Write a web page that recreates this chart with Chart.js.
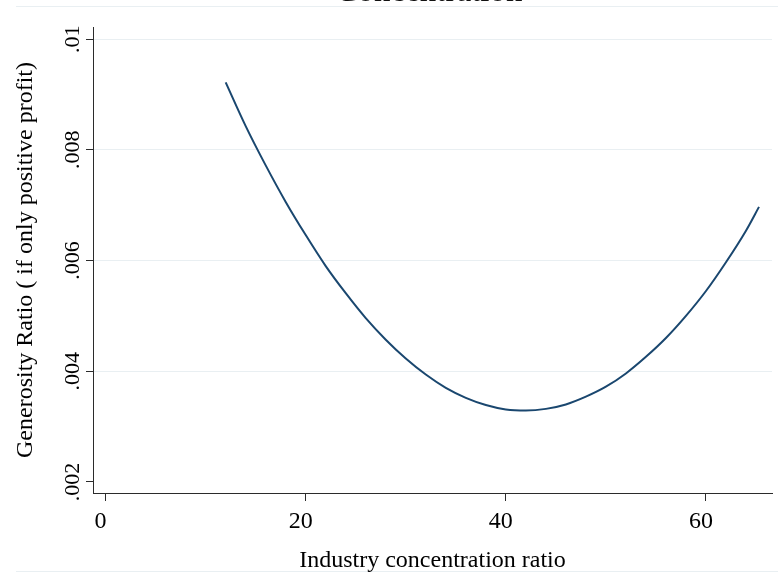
<!DOCTYPE html>
<html>
<head>
<meta charset="utf-8">
<title>Generosity Ratio by Concentration</title>
<script src="https://cdn.jsdelivr.net/npm/chart.js@4/dist/chart.umd.min.js"></script>
<style>
  html, body { margin: 0; padding: 0; background: #fff; overflow: hidden; }
  #wrap { position: relative; width: 778px; height: 574px; }
  #frame {
    position: absolute; left: 16px; top: 6px; width: 762px; height: 566px;
    border-top: 1px solid #e9eff2; border-bottom: 1px solid #e9eff2;
    box-sizing: border-box; pointer-events: none;
  }
  canvas { position: absolute; left: 0; top: 0; }
</style>
</head>
<body>
<div id="wrap">
  <div id="frame"></div>
  <canvas id="chart" width="778" height="574"></canvas>
</div>
<script>
/* ── Data ────────────────────────────────────────────────── */

const concentration = [
  12, 14, 16, 18, 20, 22, 24, 26, 28, 30, 32, 34, 36, 38,
  40, 42, 44, 46, 48, 50, 52, 54, 56, 58, 60, 62, 64, 65.3,
];
const generosity = [
  0.00922, 0.00843, 0.00772, 0.00706, 0.00646, 0.00590, 0.00541,
  0.00496, 0.00457, 0.00423, 0.00394, 0.00370, 0.00352, 0.00339,
  0.00331, 0.00329, 0.00332, 0.00340, 0.00354, 0.00372, 0.00396,
  0.00426, 0.00460, 0.00500, 0.00545, 0.00597, 0.00654, 0.00697,
];
const xTicks = [0, 20, 40, 60];
const yTicks = [0.002, 0.004, 0.006, 0.008, 0.01];
const yTickLabels = ['.002', '.004', '.006', '.008', '.01'];

/* ── Styles ──────────────────────────────────────────────── */

const SERIF = '"Liberation Serif", "Times New Roman", serif';
const LINE_COLOR = '#1a476f';
const AXIS_COLOR = '#2b2b2b';
const GRID_COLOR = '#e9eff2';

// title is cropped at the top of the reference; only its bottom edge shows
const cutTitle = {
  id: 'cutTitle',
  afterDraw(chart) {
    const ctx = chart.ctx;
    ctx.save();
    ctx.font = '33px ' + SERIF;
    ctx.fillStyle = '#111';
    ctx.textAlign = 'center';
    ctx.textBaseline = 'alphabetic';
    ctx.fillText('Concentration', 429, 1);
    ctx.restore();
  },
};

const points = concentration.map((x, i) => ({ x, y: generosity[i] }));

new Chart(document.getElementById('chart'), {
  type: 'line',
  data: {
    datasets: [
      {
        data: points,
        borderColor: LINE_COLOR,
        borderWidth: 2,
        pointRadius: 0,
        fill: false,
        cubicInterpolationMode: 'monotone',
      },
    ],
  },
  options: {
    responsive: false,
    animation: false,
    layout: { padding: { top: 27, right: 6, bottom: 0, left: 0 } },
    plugins: {
      legend: { display: false },
      tooltip: { enabled: false },
    },
    scales: {
      x: {
        type: 'linear',
        min: -1.26,
        max: 66.6,
        afterFit: (scale) => { scale.height = 81; },
        afterBuildTicks: (scale) => { scale.ticks = xTicks.map((v) => ({ value: v })); },
        border: { display: true, color: AXIS_COLOR, width: 1 },
        grid: {
          drawOnChartArea: false,
          drawTicks: true,
          tickLength: 8,
          tickColor: AXIS_COLOR,
        },
        ticks: {
          color: '#000',
          font: { family: SERIF, size: 24 },
          padding: 6,
          labelOffset: -5,
          maxRotation: 0,
        },
        title: {
          display: true,
          text: 'Industry concentration ratio',
          color: '#000',
          font: { family: SERIF, size: 24 },
          padding: { top: 0, bottom: -1 },
        },
      },
      y: {
        type: 'linear',
        min: 0.0018,
        max: 0.01022,
        afterFit: (scale) => { scale.width = 93; },
        afterBuildTicks: (scale) => { scale.ticks = yTicks.map((v) => ({ value: v })); },
        border: { display: true, color: AXIS_COLOR, width: 1 },
        grid: {
          color: (ctx) => (ctx.tick && ctx.tick.value === 0.002 ? 'rgba(0,0,0,0)' : GRID_COLOR),
          lineWidth: 1,
          drawTicks: true,
          tickLength: 7,
          tickColor: AXIS_COLOR,
        },
        ticks: {
          color: '#000',
          font: { family: SERIF, size: 22 },
          minRotation: 90,
          maxRotation: 90,
          crossAlign: 'center',
          padding: -6.5,
          callback: (value) => {
            const i = yTicks.indexOf(value);
            return i >= 0 ? yTickLabels[i] : '';
          },
        },
        title: {
          display: true,
          text: 'Generosity Ratio ( if only positive profit)',
          color: '#000',
          font: { family: SERIF, size: 24 },
          padding: { top: 11, bottom: 0 },
        },
      },
    },
  },
  plugins: [cutTitle],
});
</script>
</body>
</html>
